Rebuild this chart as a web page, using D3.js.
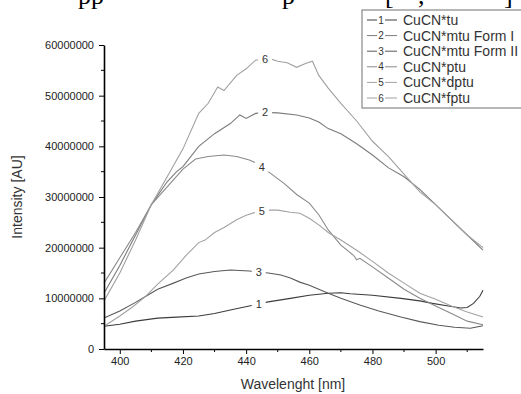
<!DOCTYPE html>
<html>
<head>
<meta charset="utf-8">
<script src="https://cdn.jsdelivr.net/npm/d3@7"></script>
<style>
  body { margin: 0; background: #fff; }
  svg { display: block; font-family: "Liberation Sans", Arial, sans-serif; }
</style>
</head>
<body>
<div id="chart"></div>
<script>
// emission spectra, intensity in millions AU
var seriesNames = ["CuCN*tu", "CuCN*mtu Form I", "CuCN*mtu Form II", "CuCN*ptu", "CuCN*dptu", "CuCN*fptu"];
var seriesColors = ["#3c3c3c", "#7c7c7c", "#595959", "#8a8a8a", "#a2a2a2", "#a0a0a0"];
var labelNm = [444, 446, 444, 445, 445, 446];

var tu = [[395,4.5],[400,4.9],[405,5.5],[412,6.1],[418,6.3],[425,6.5],[430,7.0],[435,7.7],[441,8.5],[447,9.3],[454,10.0],[460,10.6],[466,11.0],[470,11.1],[473,10.9],[480,10.6],[489,10.0],[495,9.5],[499,9.0],[504,8.5],[508,8.1],[510,8.2],[512,9.0],[514,10.4],[515,11.6]];
var mtu1 = [[395,11],[400,16.5],[405,22.5],[410,28.5],[415,33],[418,35],[420,36],[425,40],[430,42.5],[435,44.5],[438,46.2],[440,45.5],[443,46.5],[446,46.7],[450,46.6],[456,46.2],[460,45.6],[463,44.8],[466,43.5],[470,42.5],[475,40.5],[480,38.3],[485,35.8],[490,34],[495,31.5],[500,28.5],[505,25.5],[510,22.5],[515,19.5]];
var mtu2 = [[395,6.1],[400,7.5],[405,9.2],[408,10.3],[412,11.8],[417,13],[421,14],[425,14.8],[430,15.3],[435,15.6],[441,15.4],[447,15],[451,14.6],[454,14],[457,13.2],[460,12.6],[466,11],[470,10],[476,8.7],[482,7.5],[489,6.3],[495,5.4],[501,4.7],[506,4.3],[511,4.1],[515,4.6]];
var ptu = [[395,13],[400,18],[405,23],[410,28.5],[415,32],[420,35.5],[424,37.5],[428,38],[433,38.3],[437,38],[441,37.3],[444,36.5],[447,35],[452,32.7],[456,30.5],[460,28.8],[463,26.5],[466,23.5],[470,20.5],[474,18.5],[475,17.6],[476,17.9],[480,16.2],[485,14],[490,11.8],[495,10],[500,8.5],[505,7],[510,5.5],[515,4.8]];
var dptu = [[395,4.5],[400,6.5],[404,8.3],[408,10.3],[412,12.8],[417,15.6],[421,18.5],[425,21],[427,21.5],[430,23],[433,24],[437,25.5],[440,26.4],[444,27.2],[447,27.4],[450,27.4],[454,27],[457,26.8],[460,25.8],[463,24.5],[466,23],[470,21.5],[475,19.5],[480,17.3],[485,15],[490,13],[495,11],[500,9.8],[505,8.5],[510,7.3],[515,6.3]];
var fptu = [[395,9.5],[400,15],[405,21.5],[410,28.5],[415,34],[420,39.5],[425,46.5],[428,48.5],[431,51.7],[433,51],[437,54],[440,55.3],[443,57],[447,57.4],[450,56.8],[453,56.5],[456,55.6],[459,56.4],[461,56.8],[463,54],[466,51.5],[470,48.5],[475,45],[480,41],[485,38],[490,34.5],[495,31],[500,28.5],[505,25.5],[510,22.5],[515,20]];

var allSeries = [tu, mtu1, mtu2, ptu, dptu, fptu];
var xTicks = [400, 420, 440, 460, 480, 500];
var yTicks = [0, 10000000, 20000000, 30000000, 40000000, 50000000, 60000000];

var svgWidth = 521;
var svgHeight = 394;
var margin = {top: 45, right: 38, bottom: 45, left: 104};
var width = svgWidth - margin.left - margin.right;
var height = svgHeight - margin.top - margin.bottom;

var svg = d3.select("#chart")
  .append("svg")
  .attr("width", svgWidth)
  .attr("height", svgHeight);

// cut-off line of page text above the figure
var frag = svg.append("g")
  .attr("font-family", "'Liberation Serif', 'DejaVu Serif', serif")
  .attr("font-size", 26)
  .attr("fill", "#000");
[["pp", 78], ["p", 282], ["[", 385], [",", 418], ["]", 504]].forEach(function(f) {
  frag.append("text").attr("x", f[1]).attr("y", 4).text(f[0]);
});

var chartGroup = svg.append("g")
  .attr("transform", `translate(${margin.left}, ${margin.top})`);

var xScale = d3.scaleLinear().domain([395, 515]).range([0, width]);
var yScale = d3.scaleLinear().domain([0, 60000000]).range([height, 0]);

var line = d3.line()
  .x(d => xScale(d[0]))
  .y(d => yScale(d[1] * 1e6));

allSeries.forEach(function(s, i) {
  chartGroup.append("path")
    .datum(s)
    .attr("fill", "none")
    .attr("stroke", seriesColors[i])
    .attr("stroke-width", 1.1)
    .attr("d", line);
});

// curve number labels with a gap in the line
allSeries.forEach(function(s, i) {
  var nm = labelNm[i];
  var k = d3.bisector(d => d[0]).left(s, nm);
  var a = s[k - 1], b = s[k];
  var v = a[1] + (b[1] - a[1]) * (nm - a[0]) / (b[0] - a[0]);
  var cx = xScale(nm), cy = yScale(v * 1e6);
  chartGroup.append("rect")
    .attr("x", cx - 7).attr("y", cy - 7)
    .attr("width", 14).attr("height", 12)
    .attr("fill", "#fff");
  chartGroup.append("text")
    .attr("x", cx).attr("y", cy + 4)
    .attr("text-anchor", "middle")
    .attr("font-size", 11)
    .attr("fill", "#333")
    .text(i + 1);
});

// axes
var bottomAxis = d3.axisBottom(xScale).tickValues(xTicks).tickSize(5).tickPadding(3).tickSizeOuter(0);
var leftAxis = d3.axisLeft(yScale).tickValues(yTicks).tickSize(5).tickPadding(5).tickSizeOuter(0).tickFormat(d3.format("d"));

var xAxis = chartGroup.append("g")
  .attr("transform", `translate(0, ${height})`)
  .call(bottomAxis);
var yAxis = chartGroup.append("g").call(leftAxis);

// minor ticks
xAxis.selectAll(".minor")
  .data([410, 430, 450, 470, 490, 510])
  .enter().append("line")
  .attr("x1", d => xScale(d)).attr("x2", d => xScale(d))
  .attr("y1", 0).attr("y2", 3)
  .attr("stroke", "#000");
yAxis.selectAll(".minor")
  .data([5e6, 15e6, 25e6, 35e6, 45e6, 55e6])
  .enter().append("line")
  .attr("y1", d => yScale(d)).attr("y2", d => yScale(d))
  .attr("x1", 0).attr("x2", -3)
  .attr("stroke", "#000");

[xAxis, yAxis].forEach(function(ax) {
  ax.select(".domain").attr("stroke", "#000").attr("stroke-width", 1.6);
  ax.selectAll(".tick line").attr("stroke", "#000");
  ax.selectAll("text").attr("font-size", 11).attr("fill", "#222")
    .attr("font-family", "'Liberation Sans', Arial, sans-serif");
});

chartGroup.append("text")
  .attr("x", 189)
  .attr("y", height + 40)
  .attr("text-anchor", "middle")
  .attr("font-size", 14)
  .attr("fill", "#333")
  .text("Wavelenght [nm]");

chartGroup.append("text")
  .attr("transform", "rotate(-90)")
  .attr("x", -(height / 2))
  .attr("y", -82)
  .attr("text-anchor", "middle")
  .attr("font-size", 14)
  .attr("fill", "#333")
  .text("Intensity [AU]");

// legend
var legend = svg.append("g").attr("transform", "translate(362, 10)");
legend.append("rect")
  .attr("x", 0).attr("y", 0)
  .attr("width", 170).attr("height", 98)
  .attr("fill", "#fff")
  .attr("stroke", "#888")
  .attr("stroke-width", 1.2);
seriesNames.forEach(function(name, i) {
  var y = 10 + i * 15.6;
  var g = legend.append("g").attr("transform", `translate(0, ${y})`);
  g.append("line").attr("x1", 5).attr("x2", 15).attr("y1", 0).attr("y2", 0).attr("stroke", seriesColors[i]);
  g.append("line").attr("x1", 23).attr("x2", 35).attr("y1", 0).attr("y2", 0).attr("stroke", seriesColors[i]);
  g.append("text").attr("x", 19).attr("y", 3.5)
    .attr("text-anchor", "middle").attr("font-size", 10).attr("fill", "#333").text(i + 1);
  g.append("text").attr("x", 41).attr("y", 5)
    .attr("font-size", 14).attr("fill", "#333").text(name);
});
</script>
</body>
</html>
